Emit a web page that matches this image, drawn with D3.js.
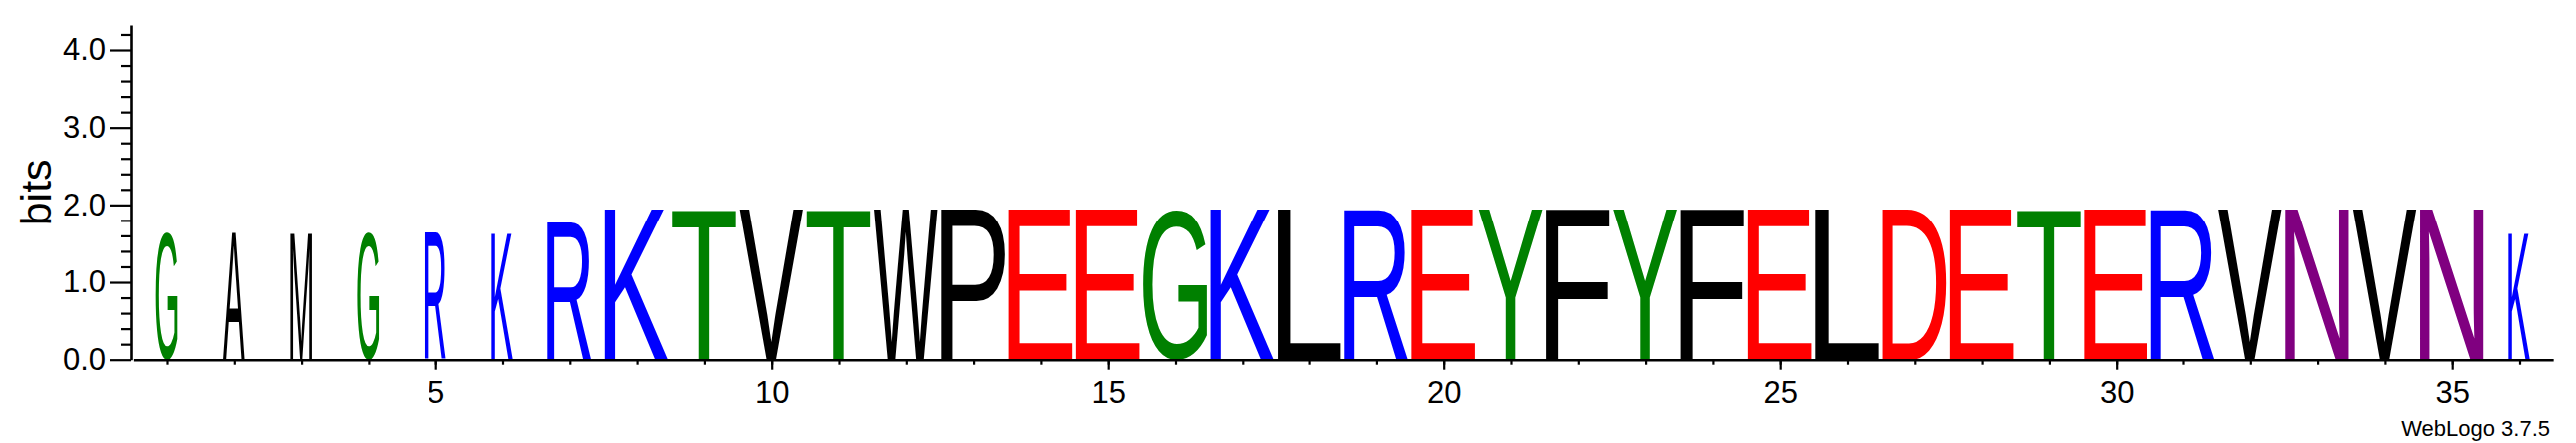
<!DOCTYPE html>
<html><head><meta charset="utf-8">
<script src="https://cdn.jsdelivr.net/npm/d3@7"></script>
<style>html,body{margin:0;padding:0;background:#fff;} svg{display:block;}</style>
</head><body>
<svg id="chart" width="2579" height="444"></svg>
<script>
// ---------- data ----------
const positions = [1,2,3,4,5,6,7,8,9,10,11,12,13,14,15,16,17,18,19,20,21,22,23,24,25,26,27,28,29,30,31,32,33,34,35,36];
const residues = ["G","A","M","G","R","K","R","K","T","V","T","W","P","E","E","G","K","L","R","E","Y","F","Y","F","E","L","D","E","T","E","R","V","N","V","N","K"];
const bitHeights = [1.64,1.64,1.64,1.64,1.64,1.64,1.78,1.94,1.94,1.94,1.94,1.94,1.94,1.94,1.94,1.94,1.94,1.94,1.94,1.94,1.94,1.94,1.94,1.94,1.94,1.94,1.94,1.94,1.94,1.94,1.94,1.94,1.94,1.94,1.94,1.64];
const widthFractions = [0.34,0.34,0.34,0.34,0.34,0.34,0.69,1,1,1,1,1,1,1,1,1,1,1,1,1,1,1,1,1,1,1,1,1,1,1,1,1,1,1,1,0.34];
const yMajorTicks = [0,1,2,3,4];
const yMinorTicks = [0.2,0.4,0.6,0.8,1.2,1.4,1.6,1.8,2.2,2.4,2.6,2.8,3.2,3.4,3.6,3.8,4.2];
const xLabelTicks = [5,10,15,20,25,30,35];
const yLabel = "bits";
const footer = "WebLogo 3.7.5";
const chemistryColors = {
  G:"#008000",S:"#008000",T:"#008000",Y:"#008000",C:"#008000",
  N:"#800080",Q:"#800080",
  K:"#0000ff",R:"#0000ff",H:"#0000ff",
  D:"#ff0000",E:"#ff0000",
  P:"#000000",A:"#000000",W:"#000000",F:"#000000",L:"#000000",I:"#000000",M:"#000000",V:"#000000"
};

// ---------- layout ----------
const FONT = '"Liberation Sans", Arial, Helvetica, sans-serif';
const svg = d3.select("#chart");
const x = d3.scaleLinear().domain([0.5, 36.5]).range([133.35, 2556.15]);
const y = d3.scaleLinear().domain([0, Math.log2(20)]).range([360.7, 25]);
const colW = x(2) - x(1);

// glyph ink measurement
const cvs = document.createElement("canvas");
const ctx = cvs.getContext("2d");
const FS = 200;
ctx.font = `${FS}px ${FONT}`;
function ink(ch){
  const m = ctx.measureText(ch);
  return {l: m.actualBoundingBoxLeft, r: m.actualBoundingBoxRight, a: m.actualBoundingBoxAscent, d: m.actualBoundingBoxDescent};
}

const logo = positions.map((p,i)=>({pos:p, ch:residues[i], h:bitHeights[i], wf:widthFractions[i]}));

svg.append("g").attr("class","letters")
  .selectAll("text").data(logo).join("text")
  .attr("x",0).attr("y",0)
  .attr("font-family",FONT).attr("font-size",FS)
  .attr("fill",d=>chemistryColors[d.ch])
  .attr("transform",d=>{
    const g = ink(d.ch);
    const bw = colW*0.95*d.wf;
    const bx = x(d.pos) - bw/2 - 0.5;
    const by = y(d.h);
    const bh = y(0) - y(d.h);
    return `translate(${bx},${by}) scale(${bw/(g.l+g.r)},${bh/(g.a+g.d)}) translate(${g.l},${g.a})`;
  })
  .text(d=>d.ch);

// ---------- y axis ----------
const yMajor = svg.append("g").attr("transform","translate(131,0)")
  .call(d3.axisLeft(y).tickValues(yMajorTicks).tickFormat(d3.format(".1f")).tickSize(21).tickPadding(4).tickSizeOuter(0));
const yMinor = svg.append("g").attr("transform","translate(131,0)")
  .call(d3.axisLeft(y).tickValues(yMinorTicks).tickFormat("").tickSize(10).tickSizeOuter(0));
yMinor.select(".domain").remove();
[yMajor,yMinor].forEach(g=>{
  g.selectAll("line").attr("stroke","#000").attr("stroke-width",2.2);
  g.selectAll(".domain").attr("stroke","#000").attr("stroke-width",2.6);
  g.selectAll("text").attr("font-family",FONT).attr("font-size",31).attr("fill","#000");
});

// ---------- x axis ----------
const xMinor = svg.append("g").attr("transform",`translate(0,${y(0)})`)
  .call(d3.axisBottom(x).tickValues(positions).tickFormat("").tickSize(5).tickSizeOuter(0));
const xMajor = svg.append("g").attr("transform",`translate(0,${y(0)})`)
  .call(d3.axisBottom(x).tickValues(xLabelTicks).tickFormat(d3.format("d")).tickSize(10).tickPadding(11).tickSizeOuter(0));
xMajor.select(".domain").remove();
[xMinor,xMajor].forEach(g=>{
  g.selectAll("line").attr("stroke","#000").attr("stroke-width",2.2);
  g.selectAll(".domain").attr("stroke","#000").attr("stroke-width",2.6);
  g.selectAll("text").attr("font-family",FONT).attr("font-size",31).attr("fill","#000");
});

// ---------- labels ----------
svg.append("text")
  .attr("transform",`translate(50.5,${(y(0)+y(Math.log2(20)))/2}) rotate(-90)`)
  .attr("text-anchor","middle")
  .attr("font-family",FONT).attr("font-size",43).attr("fill","#000")
  .text(yLabel);

svg.append("text")
  .attr("x",2553).attr("y",437)
  .attr("text-anchor","end")
  .attr("font-family",FONT).attr("font-size",22).attr("fill","#000")
  .text(footer);
</script>
</body></html>
